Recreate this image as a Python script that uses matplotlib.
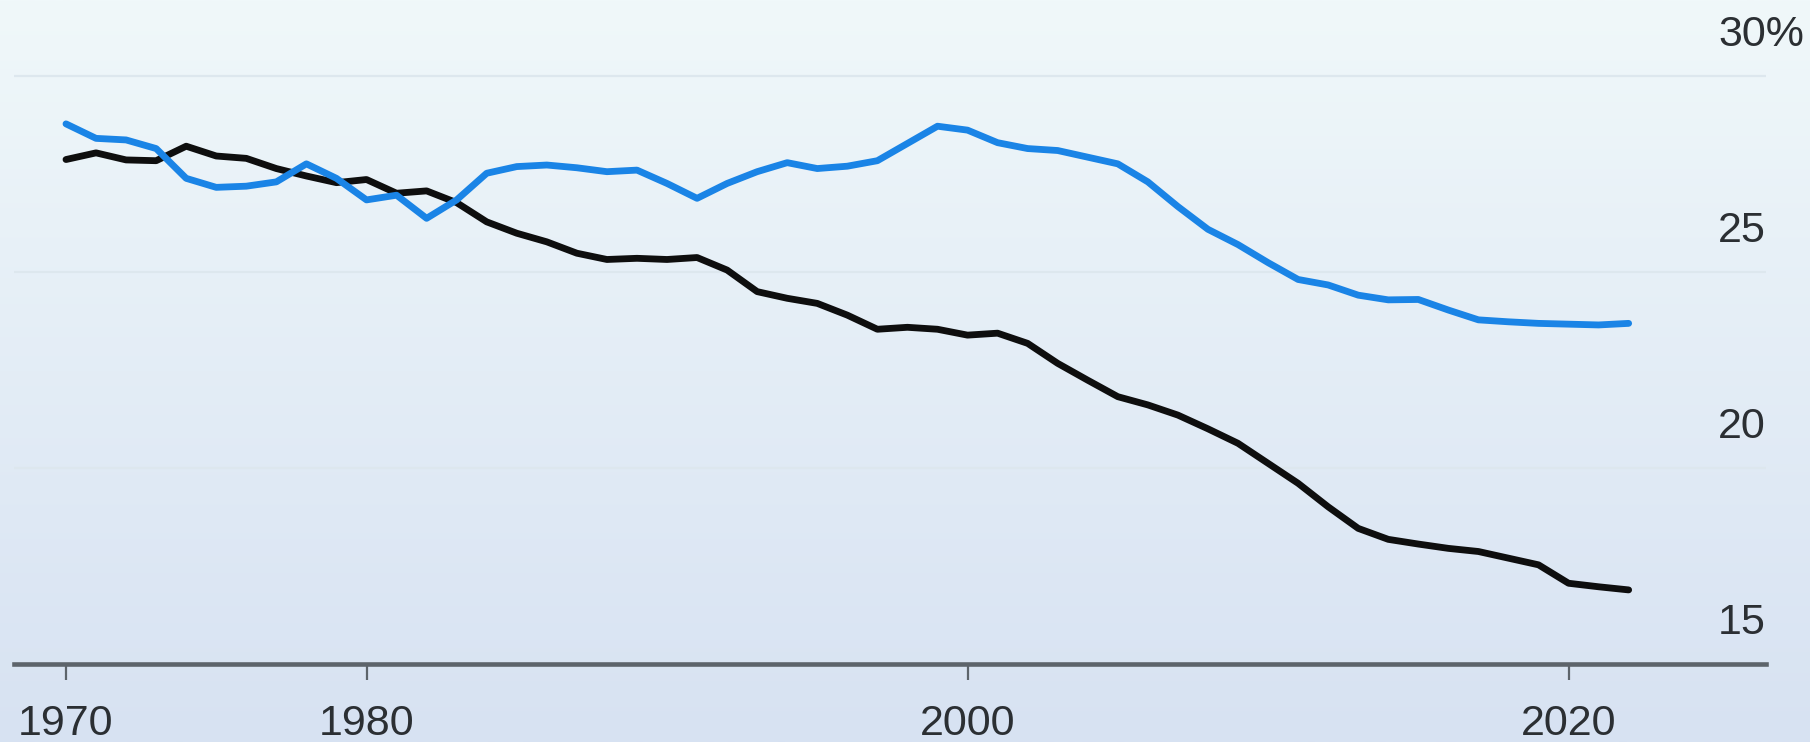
import matplotlib

matplotlib.use("Agg")
import matplotlib.pyplot as plt
import numpy as np

years = list(range(1970, 2023))

blue_share = [
    28.78, 28.41, 28.37, 28.15, 27.39, 27.16, 27.19, 27.30, 27.76, 27.39,
    26.84, 26.96, 26.37, 26.84, 27.52, 27.69, 27.73, 27.66, 27.56, 27.60,
    27.26, 26.88, 27.26, 27.56, 27.79, 27.64, 27.70, 27.84, 28.28, 28.72,
    28.62, 28.30, 28.15, 28.10, 27.93, 27.76, 27.30, 26.67, 26.09, 25.70,
    25.24, 24.81, 24.67, 24.41, 24.29, 24.30, 24.03, 23.78, 23.73, 23.69,
    23.67, 23.65, 23.69,
]

black_share = [
    27.87, 28.04, 27.86, 27.84, 28.21, 27.96, 27.90, 27.64, 27.45, 27.28,
    27.36, 27.01, 27.07, 26.77, 26.28, 25.99, 25.77, 25.48, 25.32, 25.35,
    25.32, 25.37, 25.05, 24.50, 24.33, 24.20, 23.90, 23.54, 23.59, 23.54,
    23.39, 23.44, 23.18, 22.67, 22.24, 21.82, 21.61, 21.35, 21.00, 20.63,
    20.12, 19.61, 19.01, 18.46, 18.18, 18.06, 17.95, 17.87, 17.70, 17.53,
    17.06, 16.97, 16.89,
]

x_ticks = [1970, 1980, 2000, 2020]
y_ticks = [15, 20, 25, 30]
y_tick_labels = ["15", "20", "25", "30%"]

label_font = "Liberation Sans"
text_color = "#2b2f33"

W, H = 1810, 742
fig = plt.figure(figsize=(W / 100, H / 100), dpi=100)

# soft vertical gradient background
bg = fig.add_axes([0, 0, 1, 1], zorder=-1)
top = np.array([240, 248, 250]) / 255
bottom = np.array([215, 226, 242]) / 255
t = np.linspace(0, 1, 256)[:, None]
grad = top * (1 - t) + bottom * t
bg.imshow(grad[:, None, :], aspect="auto", extent=(0, 1, 0, 1), origin="upper")
bg.set_axis_off()

left_px, right_px, axis_px = 14, 1766, 664
ax = fig.add_axes(
    [left_px / W, (H - axis_px) / H, (right_px - left_px) / W, axis_px / H]
)
ax.set_facecolor("none")

ax.plot(years, black_share, color="#0e0e0e", linewidth=4.9, solid_capstyle="round",
        solid_joinstyle="round", zorder=3)
ax.plot(years, blue_share, color="#1a84e6", linewidth=4.9, solid_capstyle="round",
        solid_joinstyle="round", zorder=4)

ax.set_xlim(1968.27, 2026.57)
ax.set_ylim(15, 31.94)

ax.set_yticks(y_ticks)
ax.tick_params(axis="y", left=False, labelleft=False)
ax.grid(axis="y", color="#dde7ee", linewidth=1.6)
ax.set_axisbelow(True)

for spine in ["top", "left", "right"]:
    ax.spines[spine].set_visible(False)
ax.spines["bottom"].set_color("#5d646b")
ax.spines["bottom"].set_linewidth(3.3)
ax.spines["bottom"].set_zorder(5)

ax.set_xticks(x_ticks)
ax.set_xticklabels([str(y) for y in x_ticks])
ax.tick_params(axis="x", direction="out", length=11.5, width=1.6, color="#5d646b",
               pad=17, labelsize=31, labelcolor=text_color)
for lbl in ax.get_xticklabels():
    lbl.set_fontfamily(label_font)

for val, txt in zip(y_ticks, y_tick_labels):
    ax.text((1718 - left_px) / (right_px - left_px), val + 1.05, txt,
            transform=ax.get_yaxis_transform(), ha="left", va="center",
            fontsize=31, color=text_color, family=label_font, clip_on=False)

fig.savefig("out.png", dpi=100)
plt.close(fig)
